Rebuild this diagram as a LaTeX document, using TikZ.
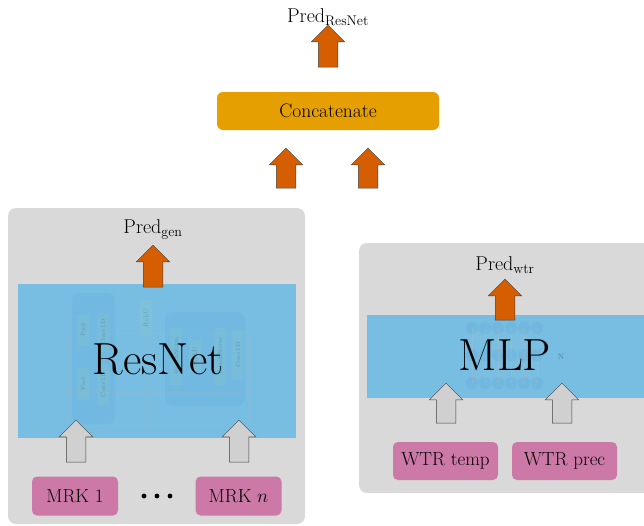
\RequirePackage{fix-cm}
\documentclass[tikz,border=0pt]{standalone}
\usetikzlibrary{shapes.arrows}
\definecolor{panelgray}{RGB}{217,217,217}
\definecolor{layerblue}{RGB}{120,190,227}
\definecolor{deepblue}{RGB}{95,170,222}
\definecolor{faintgreen}{RGB}{140,200,190}
\definecolor{inpink}{RGB}{204,121,167}
\definecolor{concatorange}{RGB}{230,159,0}
\definecolor{flowred}{RGB}{213,94,0}
\definecolor{inarrowgray}{RGB}{208,208,208}
\tikzset{
  panel/.style={fill=panelgray, rounded corners=8pt},
  layer/.style={fill=layerblue},
  inbox/.style={fill=inpink, rounded corners=5pt, minimum width=86pt, minimum height=39pt,
    font=\fontsize{19}{22}\selectfont},
  blockarrow/.style={single arrow, shape border rotate=90, inner sep=0pt,
    minimum width=33pt, single arrow head extend=7pt, text width=19pt,
    single arrow head indent=0pt, draw=black!75, line width=0.5pt},
  outarrow/.style={blockarrow, fill=flowred},
  inarrow/.style={blockarrow, fill=inarrowgray},
  predlabel/.style={font=\fontsize{20}{22}\selectfont},
  bigname/.style={font=\fontsize{45}{50}\selectfont},
  ghost/.style={opacity=0.22},
  ghosttext/.style={opacity=0.18, font=\fontsize{6}{7}\selectfont, rotate=90},
}
\begin{document}
\begin{tikzpicture}[x=1pt, y=-1pt]
\useasboundingbox (0,0) rectangle (644,525);
\clip (0,0) rectangle (644,525);

% ---- output stage ----
\node[predlabel] (predall) at (328,17) {$\mathrm{Pred}_{\mathrm{ResNet}}$};
\node[outarrow, minimum height=42pt] (aout) at (328,51) {};
\node[fill=concatorange, rounded corners=6pt, minimum width=222pt, minimum height=38pt,
  font=\fontsize{19.5}{22}\selectfont] (concat) at (328,111) {Concatenate};
\node[outarrow, minimum height=40pt] (ain1) at (286,173) {};
\node[outarrow, minimum height=40pt] (ain2) at (368,173) {};

% ---- ResNet branch ----
\fill[panel] (8,208) rectangle (305,524);
\node[layer, inner sep=0pt, minimum width=278pt, minimum height=154pt] (resnet) at (157,361) {};
% faint residual-block sketch behind the layer
\begin{scope}[ghost]
  \fill[deepblue, rounded corners=8pt] (72,293) rectangle (115,424);
  \fill[deepblue, rounded corners=8pt] (165,312) rectangle (245,406);
  \draw[black!30, line width=0.3pt] (68,333) rectangle (248,425);
  \draw[black!30, line width=0.3pt] (68,392) -- (248,392);
  \draw[black!30, line width=0.3pt] (146,337) -- (146,425);
  \foreach \x/\ya/\yb in {77/315/345, 77/368/400, 97/313/352, 97/365/405,
                          140/300/337, 170/328/385, 189/340/372, 214/328/385, 232/330/380}
    \fill[faintgreen] (\x,\ya) rectangle ++(12,\yb-\ya);
\end{scope}
\node[ghosttext] (gpad1) at (83,330) {Pad};
\node[ghosttext] (gpad2) at (83,384) {Pad};
\node[ghosttext] (gconv1) at (103,332) {Conv1D};
\node[ghosttext] (gconv2) at (103,385) {Conv1D};
\node[ghosttext] (grelu1) at (146,318) {ReLU};
\node[ghosttext] (gbn1) at (176,356) {BatchNorm};
\node[ghosttext] (grelu2) at (195,356) {ReLU};
\node[ghosttext] (gbn2) at (220,356) {BatchNorm};
\node[ghosttext] (gconv3) at (238,355) {Conv1D};
\node[bigname] (resnetname) at (158,359) {ResNet};

\node[predlabel] (predgen) at (153,229) {$\mathrm{Pred}_{\mathrm{gen}}$};
\node[outarrow, minimum height=42pt] (agen) at (153,271) {};
\node[inarrow, minimum height=42pt] (amrk1) at (76,446) {};
\node[inarrow, minimum height=42pt] (amrkn) at (239,446) {};
\node[inbox] (mrk1) at (75,496) {MRK 1};
\node[inbox] (mrkn) at (238.5,496) {MRK $n$};
% ellipsis between the first and last marker inputs
\foreach \x in {144,157,170} \fill (\x,496) circle (2.4);

% ---- weather MLP branch ----
\fill[panel] (359,243) rectangle (660,493);
\node[layer, inner sep=0pt, minimum width=300pt, minimum height=83pt] (mlp) at (517,356.5) {};
% faint network sketch behind the layer
\begin{scope}[opacity=0.28]
  \foreach \i in {0,...,5}
    \foreach \j in {0,...,5}
      \draw[black!25, line width=0.2pt] (472+13*\i,328) -- (472+13*\j,383);
  \foreach \i in {0,...,5} {
    \fill[deepblue] (472+13*\i,328) circle (6.2);
    \fill[deepblue] (472+13*\i,355) circle (6.2);
    \fill[deepblue] (472+13*\i,383) circle (6.2);
  }
\end{scope}
\node[opacity=0.3, font=\fontsize{8}{9}\selectfont] (gn) at (561,357) {N};
\node[bigname] (mlpname) at (505,355) {MLP};

\node[predlabel] (predwtr) at (505,265) {$\mathrm{Pred}_{\mathrm{wtr}}$};
\node[outarrow, minimum height=41pt] (awtr) at (505,304.5) {};
\node[inarrow, minimum height=40pt] (atemp) at (446,408) {};
\node[inarrow, minimum height=40pt] (aprec) at (562,408) {};
\node[inbox, minimum width=105pt, minimum height=38pt] (temp) at (445.5,461) {WTR temp};
\node[inbox, minimum width=105pt, minimum height=38pt] (prec) at (564.5,461) {WTR prec};
\end{tikzpicture}
\end{document}
